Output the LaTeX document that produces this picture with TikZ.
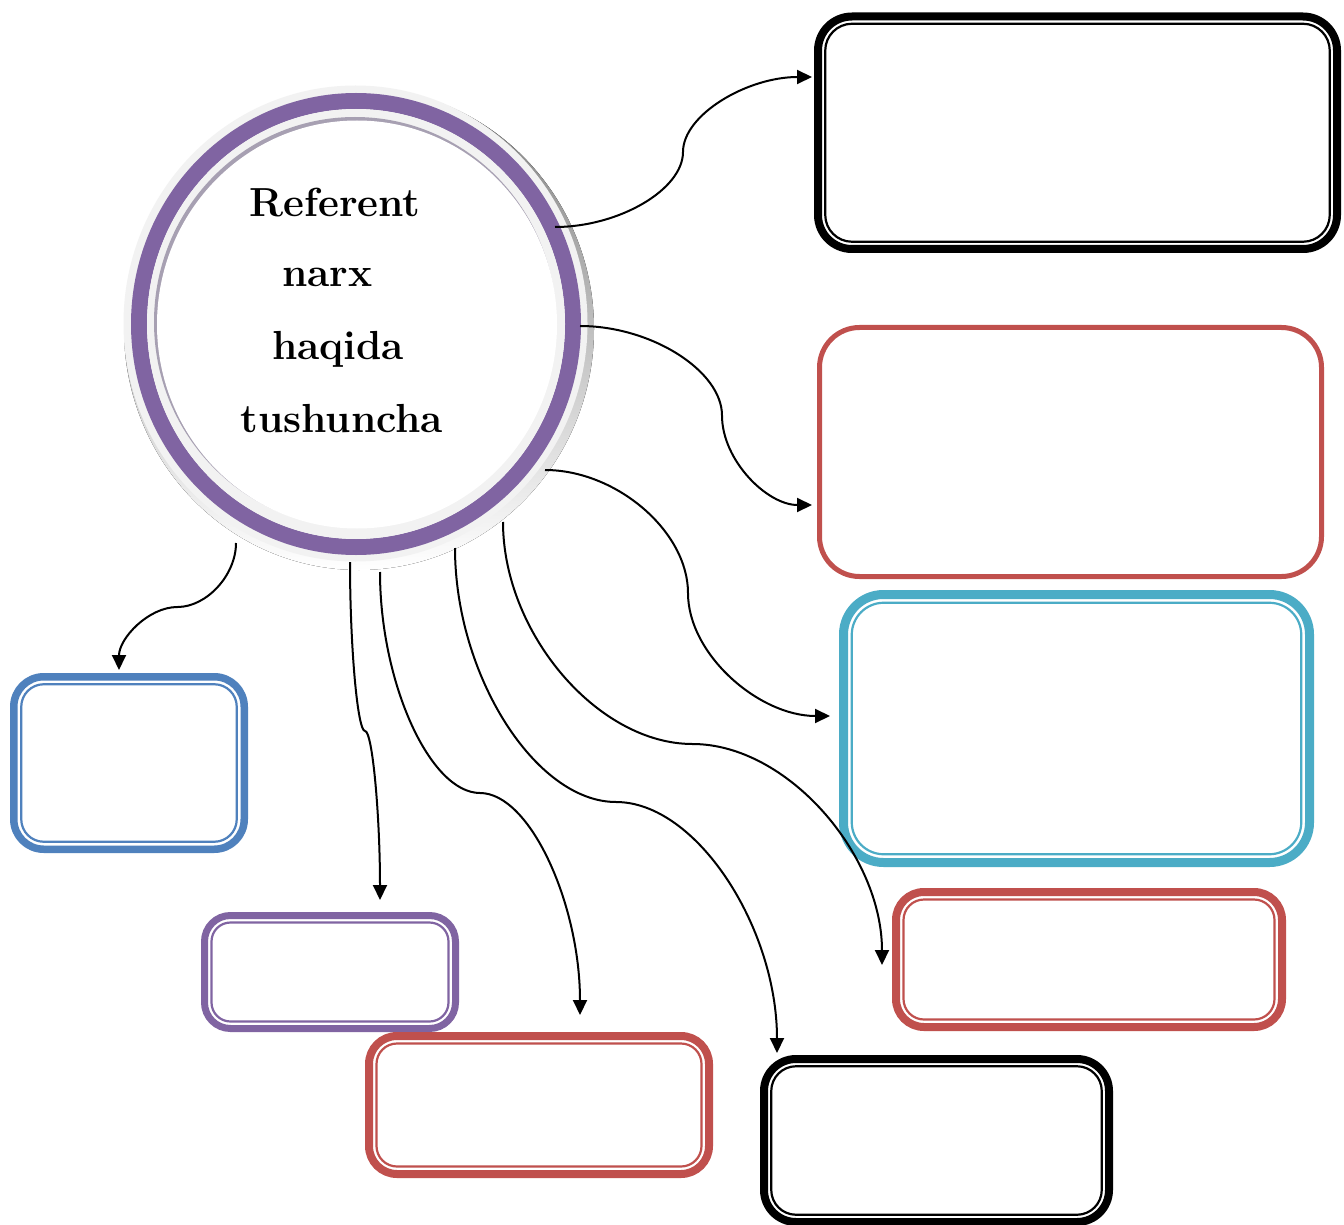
\documentclass[tikz,border=0pt]{standalone}
\usetikzlibrary{arrows.meta,calc,fit,shapes.geometric}
\definecolor{cpurple}{HTML}{8064A2}
\definecolor{cred}{HTML}{C0504D}
\definecolor{ccyan}{HTML}{4BACC6}
\definecolor{cblue}{HTML}{4F81BD}
\definecolor{halo}{HTML}{F2F2F2}
\definecolor{shade}{HTML}{9D94AB}
\definecolor{ishade}{HTML}{A7A0B2}
\begin{document}
\begin{tikzpicture}[x=0.5pt,y=-0.5pt,
  conn/.style={line width=1pt,-{Triangle[length=7.5pt,width=7pt]}},
  frame/.style={inner sep=0pt,outer sep=0pt,rounded corners=#1},
  inline/.style={line width=1.1pt,rounded corners=#1},
  word/.style={font=\fontsize{20.3}{24}\selectfont\bfseries,anchor=base,inner sep=0pt},
]
\useasboundingbox[fill=white] (0,0) rectangle (1344,1225);

% central circle
\fill[shade] (359,329) ellipse [x radius=235,y radius=241];
\fill[halo] (355.5,323.5) ellipse [x radius=232,y radius=238];
\node[ellipse,draw=cpurple,line width=8pt,inner sep=0pt,outer sep=0pt,
      minimum width=217pt,minimum height=223pt] (c) at (356,324) {};
\fill[halo] (356,324) ellipse [x radius=209,y radius=215];
\fill[ishade] (355,322) ellipse [x radius=201,y radius=205];
\fill[white] (357,324.5) ellipse [x radius=200,y radius=204];

\node[word] (t1) at (335,217) {Referent};
\node[word] (t2) at (327.5,287) {narx};
\node[word] (t3) at (338,359) {haqida};
\node[word] (t4) at (341.7,432) {tushuncha};

% boxes
\node[inner sep=0pt,fit={(818,16.5) (1337,249)},frame=17pt,draw=black,line width=4pt] (b1) {};
\draw[black,inline=13.4pt] ([shift={(7.25,7.25)}]b1.north west) rectangle ([shift={(-7.25,-7.25)}]b1.south east);

\node[inner sep=0pt,fit={(819.5,327.5) (1321.5,576.5)},frame=20pt,draw=cred,line width=2.5pt] (b2) {};

\node[inner sep=0pt,fit={(843.5,594.5) (1309.5,862.5)},frame=20pt,draw=ccyan,line width=4.5pt] (b3) {};
\draw[ccyan,inline=16pt] ([shift={(8.25,8.25)}]b3.north west) rectangle ([shift={(-8.25,-8.25)}]b3.south east);

\node[inner sep=0pt,fit={(896,892) (1282,1027)},frame=14pt,draw=cred,line width=4pt] (b4) {};
\draw[cred,inline=10.25pt] ([shift={(7.5,7.5)}]b4.north west) rectangle ([shift={(-7.5,-7.5)}]b4.south east);

\node[inner sep=0pt,fit={(13.75,676.75) (244.25,849.25)},frame=15pt,draw=cblue,line width=3.75pt] (b5) {};
\draw[cblue,inline=11.25pt] ([shift={(7.5,7.5)}]b5.north west) rectangle ([shift={(-7.5,-7.5)}]b5.south east);

\node[inner sep=0pt,fit={(204.5,915.5) (455.5,1028.5)},frame=13pt,draw=cpurple,line width=3.5pt] (b6) {};
\draw[cpurple,inline=9.5pt] ([shift={(7,7)}]b6.north west) rectangle ([shift={(-7,-7)}]b6.south east);

\node[inner sep=0pt,fit={(369,1036) (709,1174)},frame=14pt,draw=cred,line width=4pt] (b7) {};
\draw[cred,inline=10.25pt] ([shift={(7.5,7.5)}]b7.north west) rectangle ([shift={(-7.5,-7.5)}]b7.south east);

\node[inner sep=0pt,fit={(764,1059) (1109,1222)},frame=16pt,draw=black,line width=4pt] (b8) {};
\draw[black,inline=12.4pt] ([shift={(7.25,7.25)}]b8.north west) rectangle ([shift={(-7.25,-7.25)}]b8.south east);

% connector ends
\coordinate (sA) at ($(c.center)+(199,-97)$);
\coordinate (sB) at ($(c.center)+(224,2)$);
\coordinate (sC) at ($(c.center)+(189,146)$);
\coordinate (sD) at ($(c.center)+(147,198)$);
\coordinate (sE) at ($(c.center)+(99,224)$);
\coordinate (sF) at ($(c.center)+(24,248)$);
\coordinate (sG) at ($(c.center)+(-6,238)$);
\coordinate (sH) at ($(c.center)+(-120,219)$);
\coordinate (eA) at ($(b1.west)+(-6,-55.75)$);
\coordinate (eB) at ($(b2.west)+(-7.5,53)$);
\coordinate (eC) at ($(b3.west)+(-13.5,-12.5)$);
\coordinate (eD) at ($(b4.west)+(-14,5.5)$);
\coordinate (eE) at ($(b8.north west)+(13,-6)$);
\coordinate (eF) at ($(b7.north)+(41,-21)$);
\coordinate (eG) at ($(b6.north)+(50,-15.5)$);
\coordinate (eH) at ($(b5.north)+(-10,-6.75)$);

% connectors
\draw[conn] (sA) .. controls (619,227) and (683,189.5) .. (683,152) .. controls (683,114.5) and (747.5,77) .. (eA);
\draw[conn] (sB) .. controls (651,326) and (722,370.75) .. (722,415.5) .. controls (722,460.25) and (767,505) .. (eB);
\draw[conn] (sC) .. controls (616.5,470) and (688,531.5) .. (688,593) .. controls (688,654.5) and (759,716) .. (eC);
\draw[conn] (sD) .. controls (503,633) and (597.75,744) .. (692.5,744) .. controls (787.25,744) and (882,854.5) .. (eD);
\draw[conn] (sE) .. controls (455,675) and (535.5,802) .. (616,802) .. controls (696.5,802) and (777,927.5) .. (eE);
\draw[conn] (sF) .. controls (380,682.5) and (430,793) .. (480,793) .. controls (530,793) and (580,904) .. (eF);
\draw[conn] (sG) .. controls (350,646.5) and (357.5,731) .. (365,731) .. controls (372.5,731) and (380,815.5) .. (eG);
\draw[conn] (sH) .. controls (236,575) and (206.75,607) .. (177.5,607) .. controls (148.25,607) and (119,638.5) .. (eH);
\end{tikzpicture}
\end{document}
